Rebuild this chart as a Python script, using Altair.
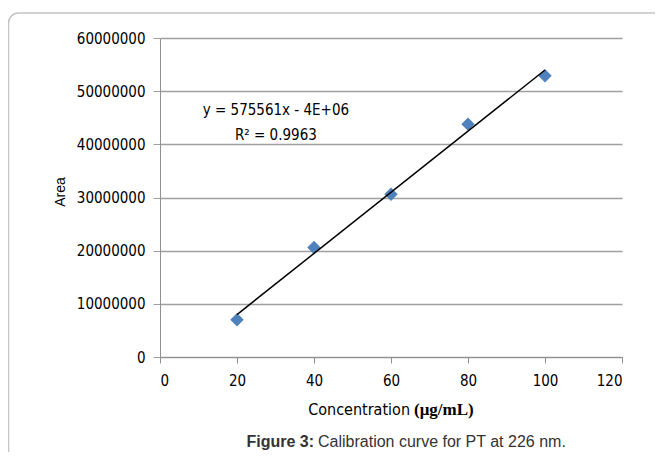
import altair as alt
import pandas as pd

conc = [20, 40, 60, 80, 100]
area = [7000000, 20600000, 30600000, 43800000, 52900000]
x_ticks = [0, 20, 40, 60, 80, 100, 120]
y_ticks = [0, 10000000, 20000000, 30000000, 40000000, 50000000, 60000000]
eq_text = ["y = 575561x - 4E+06", "R² = 0.9963"]
eq_x = [30.1, 30.1]
eq_y = [46460000, 41760000]

df = pd.DataFrame({"conc": conc, "area": area})
eq_df = pd.DataFrame({"t": eq_text, "x": eq_x, "y": eq_y})
one = pd.DataFrame({"a": [0]})

FONT = "Liberation Sans Narrow, DejaVu Sans Condensed, sans-serif"
ARIAL = "Liberation Sans, Arial, sans-serif"

xs = alt.Scale(domain=[0, 120], nice=False)
ys = alt.Scale(domain=[0, 60000000], nice=False)

frame = alt.Chart(one).mark_rect(
    fill="white", fillOpacity=0, stroke="#c4c4c4", strokeWidth=1.5, cornerRadius=10
).encode(x=alt.value(-151.5), x2=alt.value(700), y=alt.value(-25), y2=alt.value(520))

base = alt.Chart(df)

points = base.mark_point(shape="diamond", filled=True, size=180, color="#4F81BD", opacity=1).encode(
    x=alt.X("conc:Q", scale=xs, title=None,
            axis=alt.Axis(values=x_ticks, format="d", grid=False, domainColor="#909090",
                          tickColor="#909090", tickSize=6, labelPadding=10)),
    y=alt.Y("area:Q", scale=ys, title=None,
            axis=alt.Axis(values=y_ticks, format="d", grid=True, gridColor="#a0a0a0",
                          gridWidth=1.3, domainColor="#909090", ticks=True, tickSize=7,
                          tickColor="#a0a0a0", labelPadding=8)),
)

trend = base.transform_regression("conc", "area", extent=[20, 100]).mark_line(
    color="black", strokeWidth=1.5
).encode(x=alt.X("conc:Q", scale=xs), y=alt.Y("area:Q", scale=ys))

eq = alt.Chart(eq_df).mark_text(font=FONT, fontSize=15, color="black").encode(
    x=alt.X("x:Q", scale=xs), y=alt.Y("y:Q", scale=ys), text="t:N"
)

ytitle = alt.Chart(one).mark_text(font=ARIAL, fontSize=14, angle=270, color="black").encode(
    x=alt.value(-99), y=alt.value(154), text=alt.value("Area")
)
xt1 = alt.Chart(one).mark_text(font=FONT, fontSize=16, align="right", color="black").encode(
    x=alt.value(250), y=alt.value(372), text=alt.value("Concentration")
)
xt2 = alt.Chart(one).mark_text(font="Liberation Serif, serif", fontSize=17, fontWeight="bold",
                               align="left", color="black").encode(
    x=alt.value(254), y=alt.value(372), text=alt.value("(μg/mL)")
)
cap1 = alt.Chart(one).mark_text(font=ARIAL, fontSize=16,
                                fontWeight="bold", align="right", color="#333333").encode(
    x=alt.value(154), y=alt.value(404), text=alt.value("Figure 3:")
)
cap2 = alt.Chart(one).mark_text(font=ARIAL, fontSize=16,
                                align="left", color="#333333").encode(
    x=alt.value(158), y=alt.value(404), text=alt.value("Calibration curve for PT at 226 nm.")
)

chart = alt.layer(frame, points, trend, eq, ytitle, xt1, xt2, cap1, cap2).properties(
    width=462, height=319,
    autosize=alt.AutoSizeParams(type="none"),
    padding={"left": 152, "top": 30, "right": 33, "bottom": 95},
).configure_view(stroke=None).configure_axis(
    labelFont=FONT, labelFontSize=15, labelColor="black"
)

chart.save("out.html", embed_options={"renderer": "svg", "actions": False})
